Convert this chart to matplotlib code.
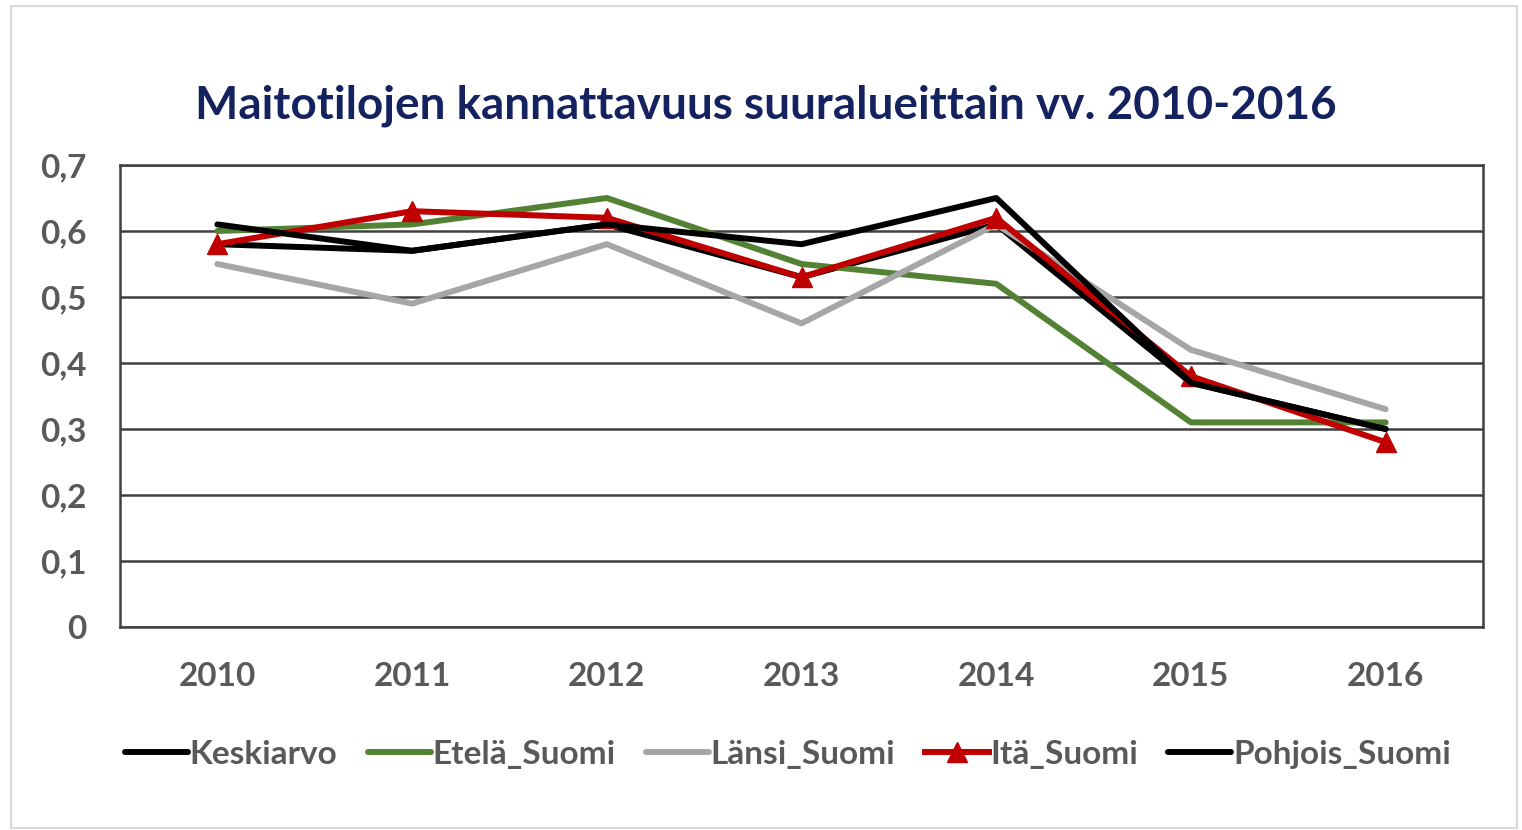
import matplotlib.pyplot as plt
from matplotlib.patches import Rectangle

years = ['2010', '2011', '2012', '2013', '2014', '2015', '2016']
keskiarvo = [0.58, 0.57, 0.61, 0.53, 0.61, 0.37, 0.30]
etela = [0.60, 0.61, 0.65, 0.55, 0.52, 0.31, 0.31]
lansi = [0.55, 0.49, 0.58, 0.46, 0.61, 0.42, 0.33]
ita = [0.58, 0.63, 0.62, 0.53, 0.62, 0.38, 0.28]
pohjois = [0.61, 0.57, 0.61, 0.58, 0.65, 0.37, 0.30]
y_ticks = [0, 0.1, 0.2, 0.3, 0.4, 0.5, 0.6, 0.7]
y_labels = ['0', '0,1', '0,2', '0,3', '0,4', '0,5', '0,6', '0,7']

plt.rcParams['font.family'] = ['Lato', 'DejaVu Sans']
plt.rcParams['font.weight'] = 'bold'

fig = plt.figure(figsize=(15.22, 8.30), dpi=100)
fig.patches.append(Rectangle((0.007, 0.003), 0.99, 0.99, transform=fig.transFigure,
                             fill=False, edgecolor='#d9d9d9', linewidth=1.5))
ax = fig.add_axes([120 / 1522, 1 - 627 / 830, 1363 / 1522, 462 / 830])

x = range(len(years))
lw = 4.3
ax.plot(x, keskiarvo, color='black', lw=lw, label='Keskiarvo', solid_capstyle='round')
ax.plot(x, etela, color='#548235', lw=lw, label='Etelä_Suomi', solid_capstyle='round')
ax.plot(x, lansi, color='#a6a6a6', lw=lw, label='Länsi_Suomi', solid_capstyle='round')
ax.plot(x, ita, color='#c00000', lw=lw, marker='^', markersize=14, label='Itä_Suomi')
ax.plot(x, pohjois, color='black', lw=lw, label='Pohjois_Suomi', solid_capstyle='round')

ax.set_xlim(-0.5, 6.5)
ax.set_ylim(0, 0.7)
ax.set_yticks(y_ticks)
ax.set_yticklabels(y_labels)
ax.set_xticks(list(x))
ax.set_xticklabels(years)
ax.tick_params(length=0, labelsize=24, labelcolor='#595959')
ax.tick_params(axis='x', pad=25)
ax.tick_params(axis='y', pad=24)
ax.yaxis.grid(True, color='#404040', lw=1.8)
ax.set_axisbelow(True)
for s in ax.spines.values():
    s.set_color('#404040')
    s.set_linewidth(1.8)

fig.text(0.503, 0.873, 'Maitotilojen kannattavuus suuralueittain vv. 2010-2016',
         ha='center', va='center', fontsize=33, fontweight='bold', color='#14225f')

leg = ax.legend(loc='center', bbox_to_anchor=(0.49, -0.275), ncol=5, frameon=False,
                fontsize=24, handlelength=1.9, handletextpad=0.05, columnspacing=0.9)
for t in leg.get_texts():
    t.set_color('#595959')

fig.savefig('out.png', dpi=100)
